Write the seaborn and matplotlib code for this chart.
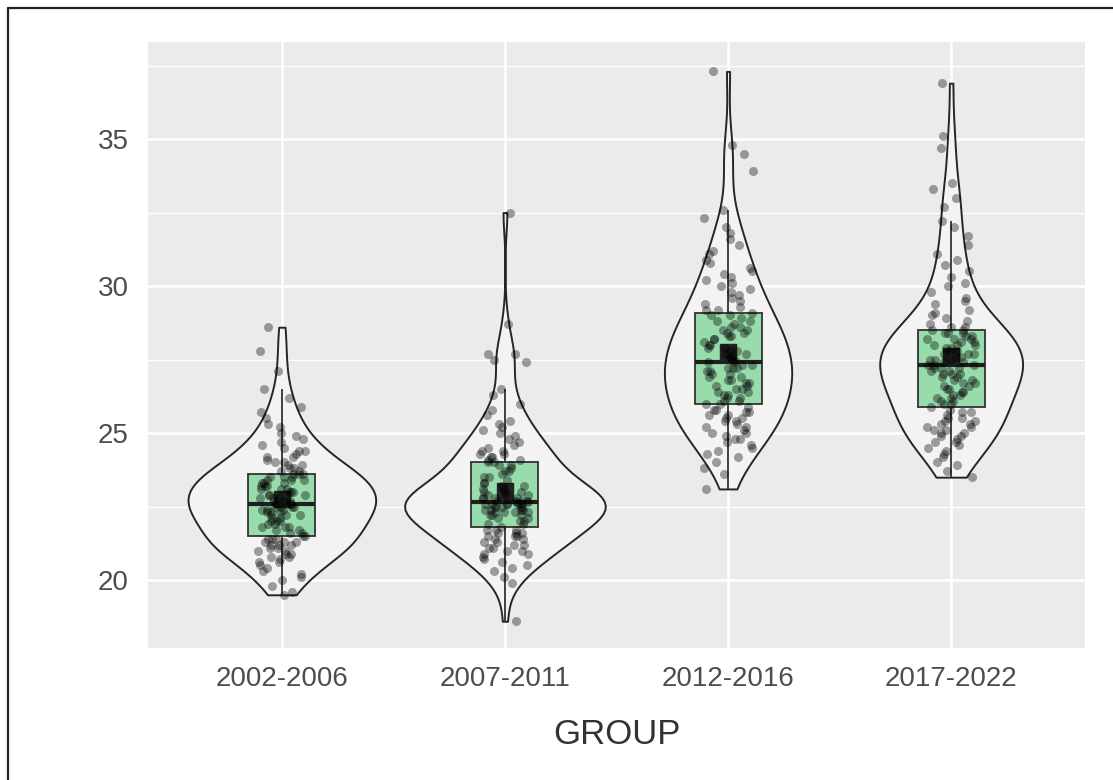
import numpy as np
import pandas as pd
import matplotlib
matplotlib.use("Agg")
import matplotlib.pyplot as plt
from matplotlib.lines import Line2D
from matplotlib.ticker import MultipleLocator
import seaborn as sns

groups = ["2002-2006", "2007-2011", "2012-2016", "2017-2022"]

g2002_2006 = [
    19.5, 19.6, 19.8, 20.0, 20.1, 20.2, 20.3, 20.4, 20.5, 20.6,
    20.6, 20.7, 20.8, 20.8, 20.9, 20.9, 21.0, 21.0, 21.1, 21.1,
    21.2, 21.2, 21.2, 21.3, 21.3, 21.3, 21.4, 21.4, 21.4, 21.5, 21.5,
    21.6, 21.6, 21.7, 21.7, 21.8, 21.8, 21.8, 21.9, 21.9, 22.0,
    22.0, 22.0, 22.1, 22.1, 22.2, 22.2, 22.2, 22.3, 22.3, 22.3,
    22.4, 22.4, 22.4, 22.5, 22.5, 22.5, 22.5, 22.6, 22.6, 22.6,
    22.7, 22.7, 22.7, 22.8, 22.8, 22.8, 22.9, 22.9, 22.9, 23.0,
    23.0, 23.0, 23.1, 23.1, 23.1, 23.2, 23.2, 23.2, 23.3, 23.3,
    23.3, 23.4, 23.4, 23.4, 23.5, 23.5, 23.5, 23.6, 23.6, 23.6,
    23.7, 23.7, 23.8, 23.8, 23.9, 23.9, 24.0, 24.0, 24.1, 24.2,
    24.2, 24.3, 24.4, 24.4, 24.5, 24.6, 24.7, 24.8, 24.9, 25.0,
    25.2, 25.3, 25.5, 25.7, 25.9, 26.2, 26.5, 27.1, 27.8, 28.6,
]
g2007_2011 = [
    18.6, 19.9, 20.1, 20.3, 20.4, 20.5, 20.6, 20.7, 20.8, 20.9,
    20.9, 21.0, 21.0, 21.1, 21.1, 21.2, 21.2, 21.3, 21.3, 21.4,
    21.4, 21.5, 21.5, 21.5, 21.6, 21.6, 21.6, 21.7, 21.7, 21.7, 21.8,
    21.9, 21.9, 22.0, 22.0, 22.1, 22.1, 22.2, 22.2, 22.2, 22.3,
    22.3, 22.3, 22.3, 22.4, 22.4, 22.4, 22.4, 22.5, 22.5, 22.5,
    22.5, 22.5, 22.6, 22.6, 22.6, 22.6, 22.6, 22.6, 22.65, 22.65,
    22.7, 22.7, 22.7, 22.7, 22.8, 22.8, 22.8, 22.8, 22.9, 22.9,
    22.9, 23.0, 23.0, 23.0, 23.1, 23.1, 23.2, 23.2, 23.3, 23.3,
    23.4, 23.5, 23.5, 23.6, 23.7, 23.7, 23.8, 23.9, 23.9, 24.0,
    24.0, 24.1, 24.1, 24.2, 24.2, 24.3, 24.3, 24.4, 24.4, 24.5,
    24.6, 24.7, 24.8, 24.9, 25.0, 25.1, 25.2, 25.3, 25.4, 25.6,
    25.8, 26.0, 26.3, 26.5, 27.4, 27.5, 27.7, 27.7, 28.7, 32.5,
]
g2012_2016 = [
    23.1, 23.6, 23.8, 24.0, 24.2, 24.3, 24.4, 24.5, 24.6, 24.7,
    24.8, 24.8, 24.9, 25.0, 25.0, 25.1, 25.2, 25.2, 25.3, 25.4,
    25.4, 25.5, 25.5, 25.6, 25.6, 25.7, 25.7, 25.8, 25.8, 25.9, 26.0,
    26.0, 26.1, 26.1, 26.2, 26.2, 26.3, 26.3, 26.4, 26.4, 26.5,
    26.5, 26.6, 26.6, 26.7, 26.7, 26.8, 26.8, 26.9, 26.9, 27.0,
    27.0, 27.1, 27.1, 27.2, 27.2, 27.2, 27.3, 27.3, 27.4, 27.4,
    27.5, 27.5, 27.6, 27.6, 27.7, 27.7, 27.8, 27.8, 27.9, 27.9,
    28.0, 28.0, 28.1, 28.2, 28.2, 28.3, 28.3, 28.4, 28.4, 28.5,
    28.5, 28.6, 28.6, 28.7, 28.8, 28.8, 28.9, 29.0, 29.0, 29.1,
    29.2, 29.2, 29.3, 29.4, 29.5, 29.6, 29.7, 29.8, 29.9, 30.0,
    30.1, 30.2, 30.3, 30.4, 30.5, 30.6, 30.8, 30.9, 31.1, 31.2,
    31.4, 31.6, 31.8, 32.0, 32.3, 32.6, 33.9, 34.5, 34.8, 37.3,
]
g2017_2022 = [
    23.5, 23.7, 23.9, 24.0, 24.2, 24.3, 24.4, 24.5, 24.6, 24.7,
    24.7, 24.8, 24.9, 24.9, 25.0, 25.0, 25.1, 25.1, 25.2, 25.2,
    25.3, 25.3, 25.4, 25.4, 25.5, 25.5, 25.6, 25.7, 25.7, 25.8, 25.9,
    26.0, 26.0, 26.1, 26.1, 26.2, 26.2, 26.3, 26.3, 26.4, 26.4,
    26.5, 26.5, 26.6, 26.6, 26.7, 26.7, 26.8, 26.8, 26.9, 26.9,
    27.0, 27.0, 27.0, 27.1, 27.1, 27.2, 27.2, 27.2, 27.3, 27.3,
    27.3, 27.4, 27.4, 27.5, 27.5, 27.5, 27.6, 27.6, 27.7, 27.7,
    27.7, 27.8, 27.8, 27.9, 27.9, 28.0, 28.0, 28.0, 28.1, 28.1,
    28.2, 28.2, 28.2, 28.3, 28.3, 28.4, 28.4, 28.4, 28.5, 28.5,
    28.6, 28.6, 28.7, 28.8, 28.9, 29.0, 29.1, 29.2, 29.4, 29.5,
    29.6, 29.8, 30.0, 30.1, 30.3, 30.5, 30.7, 30.9, 31.1, 31.4,
    31.7, 32.0, 32.2, 32.7, 33.0, 33.3, 33.5, 34.7, 35.1, 36.9,
]

values = [g2002_2006, g2007_2011, g2012_2016, g2017_2022]
df = pd.DataFrame({
    "GROUP": np.repeat(groups, [len(v) for v in values]),
    "value": np.concatenate(values),
})

# =========================================================
# 样式（ggplot 风格）
# =========================================================
sns.set_theme(style="darkgrid", rc={
    "axes.facecolor": "#EBEBEB",
    "grid.color": "white",
})
plt.rcParams["font.family"] = ["Liberation Sans", "DejaVu Sans"]

fig = plt.figure(figsize=(11.13, 7.8), dpi=100)
fig.patch.set_facecolor("white")
ax = fig.add_axes([148 / 1113, 132 / 780, 937 / 1113, 606 / 780])

np.random.seed(3)

sns.violinplot(
    data=df, x="GROUP", y="value", order=groups, ax=ax,
    cut=0, density_norm="area", width=0.9, inner=None,
    color="#F3F3F3", saturation=1, linecolor="#262626", linewidth=1.4,
    bw_adjust=0.9,
)
sns.stripplot(
    data=df, x="GROUP", y="value", order=groups, ax=ax,
    jitter=0.11, color="black", alpha=0.36, size=6.5, linewidth=0,
)
sns.boxplot(
    data=df, x="GROUP", y="value", order=groups, ax=ax,
    width=0.3, showfliers=False, showcaps=False, showmeans=True,
    linecolor="#333333", linewidth=1.3,
    boxprops=dict(facecolor=(0.55, 0.85, 0.64, 0.88), edgecolor="#333333"),
    whiskerprops=dict(color="#333333", linewidth=1.3),
    medianprops=dict(color="#1f1f1f", linewidth=3),
    meanprops=dict(marker="s", markerfacecolor="#222222",
                   markeredgecolor="#222222", markersize=12),
)

# 坐标轴
ax.set_xlim(-0.6, 3.6)
ax.set_ylim(17.69, 38.3)
ax.yaxis.set_major_locator(MultipleLocator(5))
ax.yaxis.set_minor_locator(MultipleLocator(2.5))
ax.grid(True, which="major", color="white", linewidth=1.8)
ax.grid(True, which="minor", axis="y", color="white", linewidth=0.9)
ax.set_axisbelow(True)
for s in ax.spines.values():
    s.set_visible(False)

ax.tick_params(axis="both", which="major", length=6, width=1.3,
               color="#333333", labelcolor="#4D4D4D", labelsize=20)
ax.tick_params(axis="x", pad=7)
ax.tick_params(axis="y", pad=8)
ax.tick_params(axis="y", which="minor", length=0)
ax.set_ylabel("")
ax.set_xlabel("GROUP", fontsize=25, color="#333333", va="center")
ax.xaxis.set_label_coords(0.5, -(734 - 648) / 606)

# 外边框（仅上、左）
fig.add_artist(Line2D([8 / 1113, 1], [1 - 8 / 780, 1 - 8 / 780],
                      transform=fig.transFigure, color="#222222", lw=1.6))
fig.add_artist(Line2D([8 / 1113, 8 / 1113], [0, 1 - 8 / 780],
                      transform=fig.transFigure, color="#222222", lw=1.6))

fig.savefig("out.png", dpi=100)
